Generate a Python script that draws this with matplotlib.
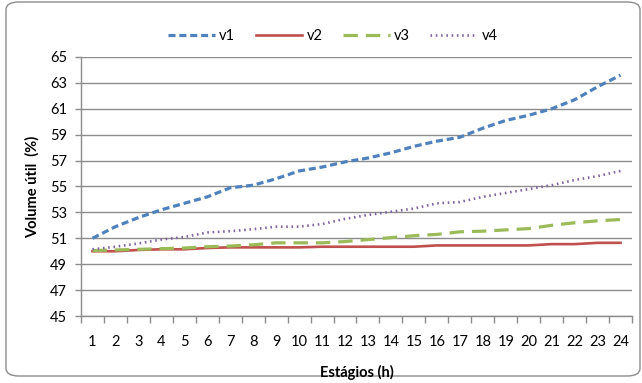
import matplotlib
matplotlib.use("Agg")
import matplotlib.pyplot as plt
from matplotlib.patches import FancyBboxPatch

plt.rcParams["font.family"] = ["Lato", "DejaVu Sans"]

estagios = list(range(1, 25))
v1 = [51.0, 51.9, 52.6, 53.2, 53.7, 54.2, 54.9, 55.1, 55.6, 56.2, 56.5, 56.9,
      57.2, 57.6, 58.1, 58.5, 58.8, 59.5, 60.1, 60.5, 61.0, 61.7, 62.7, 63.6]
v2 = [50.0, 50.0, 50.1, 50.15, 50.15, 50.25, 50.3, 50.3, 50.3, 50.3, 50.35, 50.35,
      50.35, 50.35, 50.35, 50.45, 50.45, 50.45, 50.45, 50.45, 50.55, 50.55, 50.65, 50.65]
v3 = [50.05, 50.1, 50.15, 50.2, 50.25, 50.35, 50.4, 50.5, 50.65, 50.65, 50.65, 50.75,
      50.9, 51.05, 51.2, 51.3, 51.5, 51.55, 51.65, 51.75, 52.0, 52.2, 52.35, 52.45]
v4 = [50.15, 50.35, 50.6, 50.9, 51.1, 51.45, 51.55, 51.7, 51.9, 51.9, 52.1, 52.5,
      52.8, 53.05, 53.3, 53.7, 53.8, 54.2, 54.5, 54.8, 55.1, 55.5, 55.8, 56.2]
y_ticks = list(range(45, 66, 2))

W, H = 642, 383
fig = plt.figure(figsize=(W / 100, H / 100), dpi=100)

# rounded chart border, kept behind the axes
border = FancyBboxPatch((6 / W, 7 / H), 634 / W, 374 / H,
                        boxstyle="round,pad=0,rounding_size=0.02",
                        transform=fig.transFigure, fc="white", ec="#8c8c8c",
                        lw=1.0, zorder=-1)
fig.patches.append(border)

ax = fig.add_axes([81 / W, 1 - 316 / H, (632 - 81) / W, (316 - 57) / H])
ax.set_facecolor("none")

ax.plot(estagios, v1, color="#4F81BD", lw=2.3, linestyle=(0, (2.2, 1.2)), label="v1")
ax.plot(estagios, v2, color="#C0504D", lw=1.9, linestyle="-", label="v2")
ax.plot(estagios, v3, color="#9BBB59", lw=2.3, linestyle=(0, (4.5, 2.5)), label="v3")
ax.plot(estagios, v4, color="#8064A2", lw=1.9, linestyle=(0, (0.6, 1.4)), label="v4")

ax.set_xlim(0.5, 24.5)
ax.set_ylim(45, 65)
ax.set_yticks(y_ticks)
ax.yaxis.grid(True, color="#8c8c8c", lw=1.0)
ax.set_axisbelow(True)

# category ticks sit between the labels
ax.set_xticks([i + 0.5 for i in range(0, 25)], minor=False)
ax.set_xticklabels([])
ax.set_xticks(estagios, minor=True)
ax.set_xticklabels([str(e) for e in estagios], minor=True, fontsize=10.5)
ax.tick_params(axis="x", which="major", length=5, color="#8c8c8c", width=1.0)
ax.tick_params(axis="x", which="minor", length=0, pad=14)
ax.tick_params(axis="y", length=4, color="#8c8c8c", width=1.0, labelsize=10.5, pad=6)

for side in ("top", "right"):
    ax.spines[side].set_visible(False)
for side in ("left", "bottom"):
    ax.spines[side].set_color("#8c8c8c")
    ax.spines[side].set_linewidth(1.0)

ax.set_xlabel("Estágios (h)", fontsize=10.5, fontweight="bold", labelpad=11)
ax.set_ylabel("Volume útil  (%)", fontsize=10.5, fontweight="bold", labelpad=7)

ax.legend(loc="upper center", bbox_to_anchor=(0.457, 1.16), ncol=4, frameon=False,
          fontsize=10.5, handlelength=3.2, handletextpad=0.3, columnspacing=1.4)

fig.savefig("out.png", dpi=100)
